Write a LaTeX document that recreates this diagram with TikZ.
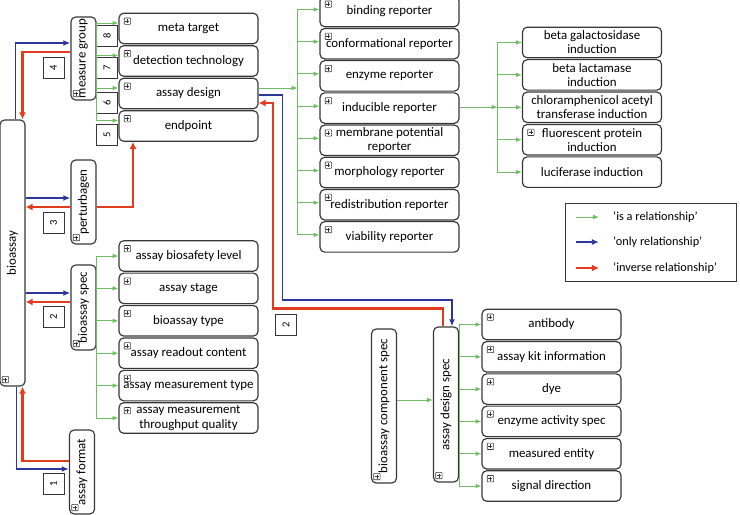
\documentclass[tikz,border=0pt]{standalone}
\usepackage{fontspec}
\setmainfont{Carlito}
\usetikzlibrary{arrows.meta,positioning}

\definecolor{isagreen}{RGB}{112,190,100}
\definecolor{onlyblue}{RGB}{45,55,155}
\definecolor{invred}{RGB}{225,60,30}
\definecolor{boxgray}{RGB}{55,55,55}

\tikzset{
  termbox/.style={draw=boxgray, line width=1pt, rounded corners=4pt, minimum width=4.17cm,
    minimum height=0.915cm, inner sep=1pt, align=center, font=\fontsize{11}{12}\selectfont},
  classbox/.style={draw=boxgray, line width=1pt, rounded corners=4pt, minimum width=0.75cm,
    inner sep=1pt, font=\fontsize{11}{12}\selectfont},
  numbox/.style={draw=boxgray, line width=0.8pt, minimum size=0.63cm, inner sep=0pt,
    font=\fontsize{9}{10}\selectfont},
  plusicon/.style={draw=boxgray, line width=0.5pt, minimum size=0.19cm, inner sep=0pt,
    rounded corners=0.5pt, path picture={
      \draw[line width=0.4pt] ([xshift=1pt]path picture bounding box.west) -- ([xshift=-1pt]path picture bounding box.east)
        ([yshift=-1pt]path picture bounding box.north) -- ([yshift=1pt]path picture bounding box.south);}},
  legendtext/.style={inner sep=0pt, anchor=west, font=\fontsize{10.5}{12}\selectfont},
  isarel/.style={draw=isagreen, line width=0.8pt, -{Latex[length=5pt,width=4pt]}},
  onlyrel/.style={draw=onlyblue, line width=1.4pt, -{Latex[length=6pt,width=5pt]}},
  inverserel/.style={draw=invred, line width=2.4pt, -{Latex[length=6pt,width=6pt]}}
}

\begin{document}
\begin{tikzpicture}[x=0.03cm, y=-0.03cm]
    \useasboundingbox (0,0) rectangle (740,515);

    % Vertical class boxes
    \node[classbox, minimum height=7.98cm] (bio) at (12.5,253) {\rotatebox{90}{bioassay}};
    \node[classbox, minimum height=2.49cm] (mgroup) at (83.5,58.5) {\rotatebox{90}{measure group}};
    \node[classbox, minimum height=2.52cm] (pert) at (83.5,202) {\rotatebox{90}{perturbagen}};
    \node[classbox, minimum height=2.55cm] (bspec) at (83.5,307.5) {\rotatebox{90}{bioassay spec}};
    \node[classbox, minimum height=2.52cm] (aformat) at (82,472) {\rotatebox{90}{assay format}};
    \node[classbox, minimum height=4.62cm] (bcspec) at (384,406) {\rotatebox{90}{bioassay component spec}};
    \node[classbox, minimum height=4.65cm] (adspec) at (446,404.5) {\rotatebox{90}{assay design spec}};

    % Number boxes
    \node[numbox] (n8) at (107,36) {\rotatebox{90}{8}};
    \node[numbox] (n7) at (107,67.5) {\rotatebox{90}{7}};
    \node[numbox] (n6) at (107,102.5) {\rotatebox{90}{6}};
    \node[numbox] (n5) at (107,135) {\rotatebox{90}{5}};
    \node[numbox] (n4) at (53.5,67.5) {\rotatebox{90}{4}};
    \node[numbox] (n3) at (53.5,222.5) {\rotatebox{90}{3}};
    \node[numbox] (n2) at (53.5,316.5) {\rotatebox{90}{2}};
    \node[numbox] (n1) at (53.5,483.5) {\rotatebox{90}{1}};
    \node[numbox] (n2b) at (286,324.5) {\rotatebox{90}{2}};

    % Term boxes
    \foreach \name/\txt [count=\i from 0] in {meta/meta target, dettech/detection technology,
        design/assay design, endp/endpoint}
      \node[termbox] (\name) at (188.5,{28.5+32.5*\i}) {\txt};
    \foreach \name/\txt [count=\i from 0] in {biosafety/assay biosafety level, stage/assay stage,
        btype/bioassay type, readout/assay readout content, meastype/assay measurement type,
        throughput/{assay measurement\\throughput quality}}
      \node[termbox] (\name) at (188.5,{256+32.4*\i}) {\txt};
    \foreach \name/\txt [count=\i from 0] in {binding/binding reporter, conform/conformational reporter,
        enzyme/enzyme reporter, inducible/inducible reporter, membrane/{membrane potential\\reporter},
        morph/morphology reporter, redist/redistribution reporter, viab/viability reporter}
      \node[termbox] (\name) at (389.5,{11.5+32.2*\i}) {\txt};
    \foreach \name/\txt [count=\i from 0] in {bgal/{beta galactosidase\\induction},
        blac/{beta lactamase\\induction}, chloram/{chloramphenicol acetyl\\transferase induction},
        fluor/{fluorescent protein\\induction}, lucif/luciferase induction}
      \node[termbox] (\name) at (592,{42.5+32.4*\i}) {\txt};
    \foreach \name/\txt [count=\i from 0] in {antibody/antibody, kit/assay kit information, dye/dye,
        enzact/enzyme activity spec, measent/measured entity, sigdir/signal direction}
      \node[termbox] (\name) at (551.5,{324.5+32.3*\i}) {\txt};

    % Expand icons
    \foreach \b in {meta,dettech,design,endp,biosafety,stage,btype,readout,meastype,throughput,
        binding,conform,enzyme,inducible,membrane,morph,redist,viab,fluor,
        antibody,kit,dye,enzact,measent,sigdir}
      \node[plusicon] (\b-plus) at ([shift={(9,8.5)}]\b.north west) {};
    \foreach \b in {bio,mgroup,pert,bspec,aformat,bcspec,adspec}
      \node[plusicon] (\b-plus) at ([shift={(6,-7)}]\b.south west) {};

    % 'is a' relations
    \foreach \t in {meta,dettech,design,endp}
      \draw[isarel] (mgroup.east) |- ([shift={(0,-5.5)}]\t.west);
    \foreach \t in {biosafety,stage,btype,readout,meastype,throughput}
      \draw[isarel] (bspec.east) |- (\t.west);
    \coordinate (rtrunk) at ([shift={(39,-5.5)}]design.east);
    \draw[isarel] ([shift={(0,-5.5)}]design.east) -- (rtrunk);
    \foreach \t in {binding,conform,enzyme,inducible,membrane,morph,redist,viab}
      \draw[isarel] (rtrunk) |- ([shift={(0,-2)}]\t.west);
    \coordinate (itrunk) at ([shift={(38,-1)}]inducible.east);
    \draw[isarel] ([shift={(0,-1)}]inducible.east) -- (itrunk);
    \foreach \t in {bgal,blac,chloram,fluor,lucif}
      \draw[isarel] (itrunk) |- (\t.west);
    \foreach \t in {antibody,kit,dye,enzact,measent,sigdir}
      \draw[isarel] (adspec.east) |- (\t.west);
    \coordinate (bcout) at ([shift={(0,-6)}]bcspec.east);
    \draw[isarel] (bcout) -- (bcout -| adspec.west);

    % 'only' relations
    \draw[onlyrel] ([shift={(3,0)}]bio.north) |- ([shift={(0,-15.5)}]mgroup.west);
    \coordinate (pertin) at ([shift={(0,-4)}]pert.west);
    \draw[onlyrel] (bio.east |- pertin) -- (pertin);
    \coordinate (bspecin) at ([shift={(0,-14.5)}]bspec.west);
    \draw[onlyrel] (bio.east |- bspecin) -- (bspecin);
    \draw[onlyrel] ([shift={(4,0)}]bio.south) |- ([shift={(0,-3)}]aformat.west);
    \coordinate (bluebend) at ([shift={(24,206.5)}]design.east);
    \draw[onlyrel] ([shift={(0,1.5)}]design.east) -| (bluebend) -| ([shift={(6,0)}]adspec.north);

    % 'inverse' relations
    \draw[inverserel] ([shift={(0,-6.5)}]mgroup.west) -| ([shift={(10,0)}]bio.north);
    \coordinate (pertout) at ([shift={(0,5)}]pert.west);
    \draw[inverserel] (pertout) -- (pertout -| bio.east);
    \draw[inverserel] ([shift={(0,5)}]pert.east) -| ([shift={(-55.5,0)}]endp.south);
    \coordinate (bspecout) at ([shift={(0,-5.5)}]bspec.west);
    \draw[inverserel] (bspecout) -- (bspecout -| bio.east);
    \draw[inverserel] ([shift={(0,-11)}]aformat.west) -| ([shift={(10,0)}]bio.south);
    \coordinate (redbend) at ([shift={(-173,-18)}]adspec.north);
    \draw[inverserel] ([shift={(-3,0)}]adspec.north) |- (redbend) |- ([shift={(0,9.5)}]design.east);

    % Legend
    \node[draw=boxgray, line width=0.8pt, minimum width=5.13cm, minimum height=2.34cm] (legend) at (650.5,242) {};
    \node[legendtext] (lisa) at (613,217) {`is a relationship'};
    \node[legendtext] (lonly) at (613,242) {`only relationship'};
    \node[legendtext] (linv) at (613,268) {`inverse relationship'};
    \draw[isarel] ([shift={(-37,0)}]lisa.west) -- ([shift={(-14,0)}]lisa.west);
    \draw[onlyrel] ([shift={(-37,0)}]lonly.west) -- ([shift={(-14,0)}]lonly.west);
    \draw[inverserel] ([shift={(-37,0)}]linv.west) -- ([shift={(-14,0)}]linv.west);

\end{tikzpicture}
\end{document}
